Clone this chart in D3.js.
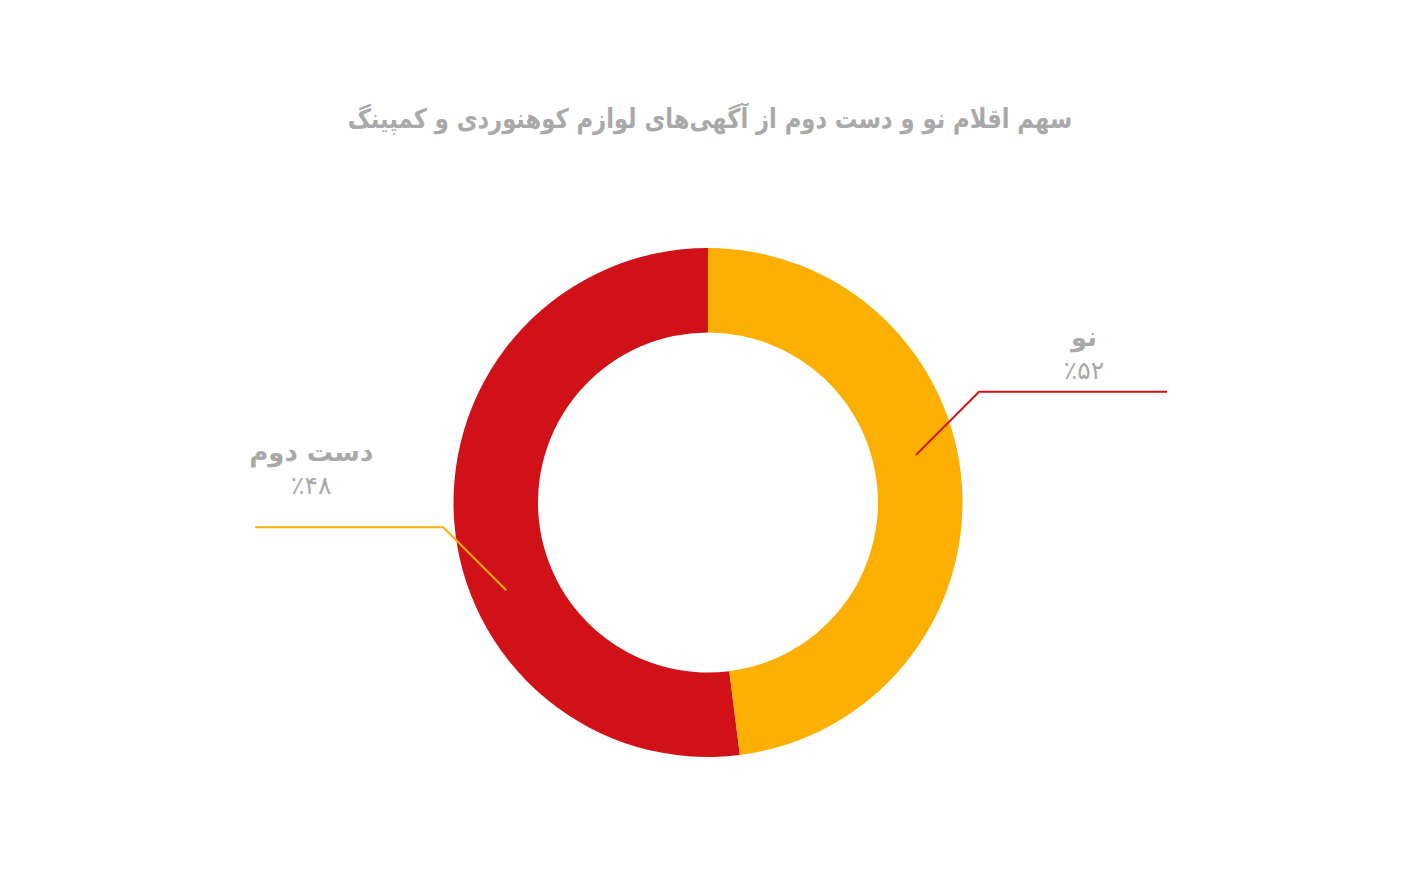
<!DOCTYPE html>
<html lang="fa">
<head>
<meta charset="utf-8">
<script src="https://cdn.jsdelivr.net/npm/d3@7"></script>
<style>
  html, body { margin: 0; padding: 0; background: #fff; }
  svg { display: block; font-family: "DejaVu Sans", sans-serif; }
</style>
</head>
<body>
<svg id="chart" width="1420" height="882"></svg>
<script>
// data
const title = "سهم اقلام نو و دست دوم از آگهی‌های لوازم کوهنوردی و کمپینگ";
const categories = ["نو", "دست دوم"];
const values = [52, 48];
const valueLabels = ["٪۵۲", "٪۴۸"];
const colors = ["#d01218", "#fbaf00"];

// layout
const width = 1420, height = 882;
const cx = 708, cy = 502.5;
const outerR = 254.5, innerR = 170;
const leaderNudge = [-16.5, -27.1];   // degrees, shift from mirrored mid angle
const leaderR = [213.4, 220];
const diag = 63, horiz = 188;
const titleWidth = 725;

const svg = d3.select("#chart");

const titleG = svg.append("g");
const titleText = titleG.append("text")
  .attr("x", 0)
  .attr("y", 0)
  .attr("text-anchor", "middle")
  .attr("direction", "rtl")
  .attr("font-size", 27)
  .attr("font-weight", "bold")
  .attr("fill", "#a9a9a9")
  .text(title);
const tw = titleText.node().getComputedTextLength();
titleG.attr("transform", `translate(710,128) scale(${titleWidth / tw},1)`);

const data = categories.map((c, i) => ({name: c, value: values[i], label: valueLabels[i], color: colors[i]}));

// slices run counter-clockwise from the top (rtl)
const pie = d3.pie()
  .sort(null)
  .value(d => d.value)
  .startAngle(0)
  .endAngle(-2 * Math.PI);

const arcs = pie(data);

const arc = d3.arc()
  .innerRadius(innerR)
  .outerRadius(outerR);

const g = svg.append("g")
  .attr("transform", `translate(${cx},${cy})`);

g.selectAll("path.slice")
  .data(arcs)
  .join("path")
  .attr("class", "slice")
  .attr("d", arc)
  .attr("fill", d => d.data.color);

// leader lines + labels
const line = d3.line();

arcs.forEach((d, i) => {
  const mid = -(d.startAngle + d.endAngle) / 2 + leaderNudge[i] * Math.PI / 180;
  const ax = leaderR[i] * Math.sin(mid), ay = -leaderR[i] * Math.cos(mid);
  const side = Math.sin(mid) >= 0 ? 1 : -1;
  const ex = ax + side * diag, ey = ay - diag;
  const lx = ex + side * horiz;

  g.append("path")
    .attr("d", line([[ax, ay], [ex, ey], [lx, ey]]))
    .attr("fill", "none")
    .attr("stroke", d.data.color)
    .attr("stroke-width", 2);

  const tx = side > 0 ? lx - 83 : lx + 56;
  const numY = side > 0 ? ey - 13 : ey - 33;

  g.append("text")
    .attr("x", tx)
    .attr("y", numY - 33)
    .attr("text-anchor", "middle")
    .attr("direction", "rtl")
    .attr("font-size", 26)
    .attr("font-weight", "bold")
    .attr("fill", "#a9a9a9")
    .text(d.data.name);

  g.append("text")
    .attr("x", tx)
    .attr("y", numY)
    .attr("text-anchor", "middle")
    .attr("direction", "rtl")
    .attr("font-size", 25)
    .attr("fill", "#a9a9a9")
    .text(d.data.label);
});
</script>
</body>
</html>
